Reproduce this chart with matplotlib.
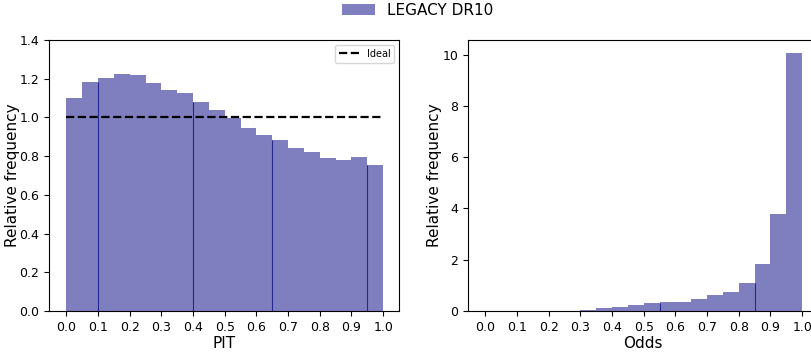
import matplotlib.pyplot as plt
import numpy as np

# bin edges shared by both histograms
bin_edges = np.linspace(0, 1, 21)

# PIT histogram (relative frequency per bin)
pit_freq = [1.10, 1.18, 1.205, 1.226, 1.221, 1.179, 1.143, 1.128, 1.081, 1.040,
            0.998, 0.947, 0.910, 0.884, 0.843, 0.822, 0.791, 0.781, 0.797, 0.755]

# Odds histogram
odds_freq = [0.01, 0.01, 0.01, 0.01, 0.01, 0.01, 0.05, 0.10, 0.14, 0.22,
             0.30, 0.34, 0.34, 0.45, 0.61, 0.73, 1.08, 1.82, 3.77, 10.08]

# darker seams visible inside the filled bars
pit_seams = [0.1, 0.4, 0.65, 0.95]
odds_seams = [0.55, 0.85]

ticks = np.round(np.arange(0, 1.01, 0.1), 1)
bar_color = "navy"

fig = plt.figure(figsize=(8.11, 3.53), dpi=100)
ax1 = fig.add_axes([0.0604, 0.119, 0.4316, 0.768])
ax2 = fig.add_axes([0.577, 0.119, 0.4316, 0.768])


def draw_hist(ax, freq, seams):
    widths = np.diff(bin_edges)
    bars = ax.bar(bin_edges[:-1], freq, width=widths, align="edge",
                  color=bar_color, alpha=0.5, linewidth=0)
    for s in seams:
        idx = np.searchsorted(bin_edges, s) - 1
        h = min(freq[idx], freq[idx + 1])
        ax.vlines(s, 0, h, color=bar_color, linewidth=0.8, alpha=0.7)
    ax.set_xticks(ticks)
    ax.set_xticklabels([f"{t:.1f}" for t in ticks], fontsize=9)
    ax.tick_params(axis="y", labelsize=9)
    ax.set_xlim(-0.055, 1.05)
    ax.set_ylabel("Relative frequency", fontsize=11)
    return bars


bars = draw_hist(ax1, pit_freq, pit_seams)
ax1.plot([0, 1], [1, 1], "k--", linewidth=1.6, label="Ideal")
ax1.set_ylim(0, 1.4)
ax1.set_xlabel("PIT", fontsize=11, labelpad=2)
ax1.legend(loc="upper right", fontsize=7)
ax1.yaxis.set_label_coords(-0.083, 0.5)

draw_hist(ax2, odds_freq, odds_seams)
ax2.set_ylim(0, 10.58)
ax2.set_xlabel("Odds", fontsize=11, labelpad=2)
ax2.yaxis.set_label_coords(-0.074, 0.5)

fig.legend([bars], ["LEGACY DR10"], loc="upper center", bbox_to_anchor=(0.515, 1.03),
           frameon=False, fontsize=11, handlelength=2.2)

fig.savefig("out.png", dpi=100)
